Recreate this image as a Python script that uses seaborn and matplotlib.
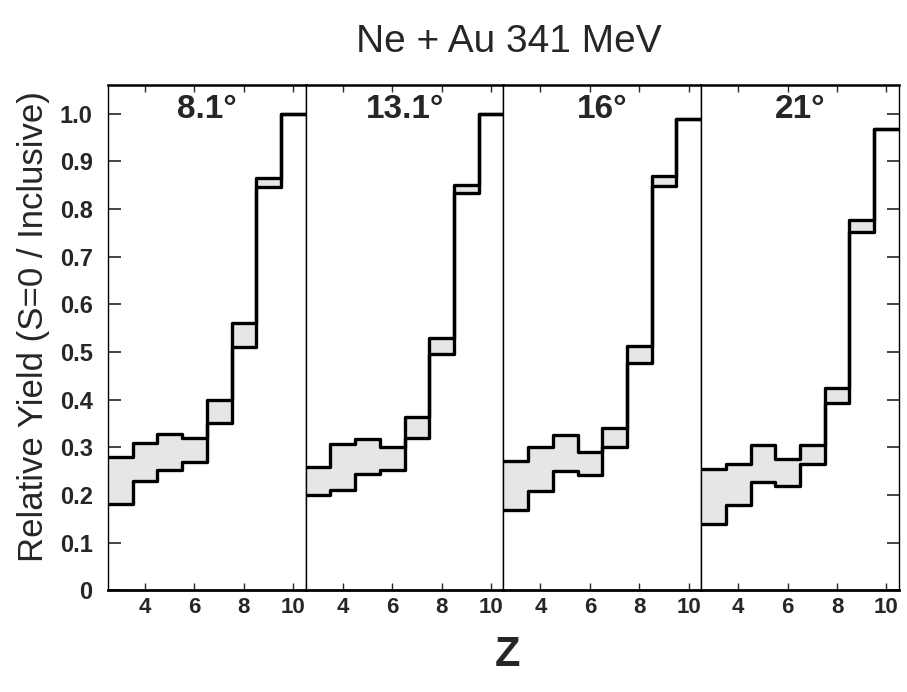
import numpy as np
import pandas as pd
import matplotlib
matplotlib.use("Agg")
import matplotlib.pyplot as plt
import seaborn as sns

# ---- data ----
Z = [3, 4, 5, 6, 7, 8, 9, 10]
angle_labels = ["8.1°", "13.1°", "16°", "21°"]
upper_81 = [0.280, 0.310, 0.327, 0.320, 0.400, 0.560, 0.865, 1.000]
lower_81 = [0.180, 0.230, 0.252, 0.270, 0.350, 0.510, 0.846, 1.000]
upper_131 = [0.258, 0.306, 0.318, 0.300, 0.364, 0.530, 0.850, 1.000]
lower_131 = [0.200, 0.210, 0.243, 0.252, 0.320, 0.495, 0.833, 1.000]
upper_16 = [0.272, 0.300, 0.326, 0.290, 0.341, 0.512, 0.869, 0.988]
lower_16 = [0.168, 0.209, 0.250, 0.242, 0.300, 0.477, 0.849, 0.988]
upper_21 = [0.255, 0.265, 0.305, 0.275, 0.305, 0.425, 0.777, 0.967]
lower_21 = [0.140, 0.178, 0.227, 0.218, 0.265, 0.392, 0.752, 0.967]
x_ticks = [4, 6, 8, 10]
y_ticks = [0, 0.1, 0.2, 0.3, 0.4, 0.5, 0.6, 0.7, 0.8, 0.9, 1.0]
y_tick_labels = ["0", "0.1", "0.2", "0.3", "0.4", "0.5", "0.6", "0.7", "0.8", "0.9", "1.0"]

panels = [
    (angle_labels[0], upper_81, lower_81),
    (angle_labels[1], upper_131, lower_131),
    (angle_labels[2], upper_16, lower_16),
    (angle_labels[3], upper_21, lower_21),
]

sns.set_style("white")
plt.rcParams["font.family"] = ["Liberation Sans", "DejaVu Sans"]

fig, axes = plt.subplots(1, 4, sharey=True, figsize=(9.07, 6.92), dpi=100)
fig.subplots_adjust(left=0.119, right=0.991, bottom=0.147, top=0.877, wspace=0)

z = np.array(Z, dtype=float)
edges = np.append(z - 0.5, z[-1] + 0.5)

for i, (ax, (lab, up, lo)) in enumerate(zip(axes, panels)):
    up_ext = np.append(up, up[-1])
    lo_ext = np.append(lo, lo[-1])
    ax.fill_between(edges, lo_ext, up_ext, step="post", color="#e6e6e6", lw=0, zorder=1)
    df = pd.DataFrame({"Z": np.concatenate([edges, edges]),
                       "y": np.concatenate([up_ext, lo_ext]),
                       "s": ["up"] * len(edges) + ["lo"] * len(edges)})
    sns.lineplot(data=df, x="Z", y="y", units="s", estimator=None,
                 drawstyle="steps-post", color="black", lw=2.4, ax=ax,
                 legend=False, zorder=3)
    ax.set_xlim(2.5, 10.5)
    ax.set_ylim(0, 1.06)
    ax.set_xticks(x_ticks)
    ax.set_xticklabels([str(t) for t in x_ticks], fontsize=16, fontweight="bold")
    ax.tick_params(axis="x", direction="in", length=5, width=1, top=True,
                   bottom=True, pad=5)
    ax.set_xlabel("")
    ax.set_ylabel("")
    ax.text(0.5, 0.952, lab, transform=ax.transAxes, ha="center", va="center",
            fontsize=24, fontweight="bold")
    for side, sp in ax.spines.items():
        sp.set_visible(True)
        sp.set_color("black")
        sp.set_linewidth(1.0)
    ax.spines["bottom"].set_linewidth(2.0)
    ax.spines["top"].set_linewidth(1.8)
    if i == 0:
        ax.tick_params(axis="y", direction="in", length=9, width=1.2,
                       left=True, right=False, pad=11)
    elif i == 3:
        ax.tick_params(axis="y", direction="in", length=9, width=1.2,
                       left=False, right=True, labelleft=False)
    else:
        ax.tick_params(axis="y", left=False, right=False, labelleft=False)
    ax.grid(False)

axes[0].set_yticks(y_ticks)
axes[0].set_yticklabels(y_tick_labels, fontsize=17, fontweight="bold")

fig.text(0.561, 0.939, "Ne + Au 341 MeV", ha="center", va="center", fontsize=28)
fig.text(0.037, 0.528, "Relative Yield (S=0 / Inclusive)", rotation=90,
         ha="center", va="center", fontsize=25)
fig.text(0.56, 0.053, "Z", ha="center", va="center", fontsize=30, fontweight="bold")

fig.savefig("out.png", dpi=100)
